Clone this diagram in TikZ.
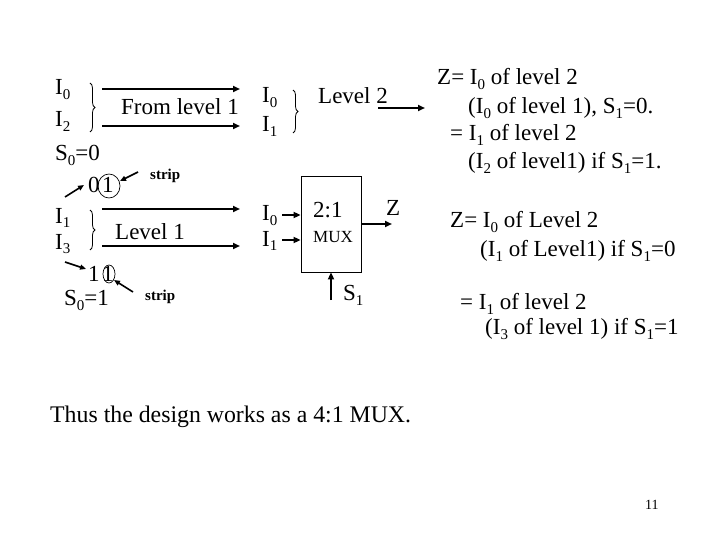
\documentclass[tikz,border=0pt]{standalone}
\usepackage{fontspec}
\setmainfont{Liberation Serif}
\usetikzlibrary{arrows.meta,decorations.pathreplacing}
\newcommand\ssub[1]{\raisebox{-5pt}{\fontsize{15}{15}\selectfont #1}}
\tikzset{
  lbl/.style={inner sep=0pt, anchor=base west, font=\fontsize{23}{27}\selectfont},
  sml/.style={inner sep=0pt, anchor=base west, font=\fontsize{17}{20}\selectfont},
  striplbl/.style={inner sep=0pt, anchor=base west, font=\fontsize{15}{18}\selectfont\bfseries},
  arr/.style={line width=2pt, -{Triangle[length=7pt,width=6pt]}},
  thinarr/.style={line width=1.6pt, -{Triangle[length=6pt,width=5pt]}},
  brc/.style={decorate, decoration={brace, amplitude=5pt}, line width=0.8pt},
}
\begin{document}
\begin{tikzpicture}[x=1pt,y=-1pt]
\useasboundingbox (0,0) rectangle (720,540);
% top-left group
\node[lbl] (i0a) at (55,95) {I\ssub{0}};
\node[lbl] (i2a) at (55,127) {I\ssub{2}};
\draw[brc] (90,83) -- (90,132);
\coordinate (a1s) at (102,89); \coordinate (a1e) at (240,89);
\coordinate (a2s) at (102,126); \coordinate (a2e) at (240,126);
\draw[arr] (a1s) -- (a1e);
\draw[arr] (a2s) -- (a2e);
\node[lbl] (from) at (121,115) {From level 1};
\node[lbl] (s00) at (55,161) {S\ssub{0}=0};
% 0 1 strip
\node[lbl] (d0) at (88,193) {0};
\node[lbl] (d1) at (102,193) {1};
\draw[line width=0.7pt] (109,186) ellipse [x radius=11, y radius=12];
\coordinate (p1s) at (65,197); \coordinate (p1e) at (84,185);
\draw[thinarr] (p1s) -- (p1e);
\coordinate (st1s) at (138,172); \coordinate (st1e) at (120,181);
\draw[thinarr] (st1s) -- (st1e);
\node[striplbl] (strip1) at (150,180) {strip};
% second left group
\node[lbl] (i1a) at (55,223) {I\ssub{1}};
\node[lbl] (i3a) at (55,249) {I\ssub{3}};
\draw[brc] (90,210) -- (90,250);
\coordinate (b1s) at (102,209); \coordinate (b1e) at (240,209);
\coordinate (b2s) at (102,246); \coordinate (b2e) at (240,246);
\draw[arr] (b1s) -- (b1e);
\draw[arr] (b2s) -- (b2e);
\node[lbl] (lev1) at (115,240) {Level 1};
% 1 1 strip
\node[lbl] (e0) at (88,281) {1};
\node[lbl] (e1) at (102,281) {1};
\draw[line width=0.7pt] (109,274) ellipse [x radius=6, y radius=9];
\coordinate (p2s) at (65,262); \coordinate (p2e) at (86,269);
\draw[thinarr] (p2s) -- (p2e);
\coordinate (st2s) at (133,292); \coordinate (st2e) at (114,280);
\draw[thinarr] (st2s) -- (st2e);
\node[striplbl] (strip2) at (145,300) {strip};
\node[lbl] (s01) at (64,305) {S\ssub{0}=1};
% level 2 group
\node[lbl] (i0b) at (262,103) {I\ssub{0}};
\node[lbl] (i1b) at (262,132) {I\ssub{1}};
\draw[brc] (293,90) -- (293,133);
\node[lbl] (lev2) at (318,104) {Level 2};
\coordinate (l2s) at (378,108); \coordinate (l2e) at (425,108);
\draw[arr] (l2s) -- (l2e);
% MUX
\node[draw, line width=0.8pt, minimum width=60pt, minimum height=96pt, inner sep=0pt] (mux) at (331,224) {};
\node[lbl] (m21) at (313,218) {2:1};
\node[sml] (mmux) at (313,243) {MUX};
\node[lbl] (i0c) at (262,221) {I\ssub{0}};
\node[lbl] (i1c) at (262,246) {I\ssub{1}};
\coordinate (c0) at (282,215); \coordinate (c1) at (282,240);
\draw[arr] (c0) -- (mux.west |- c0);
\draw[arr] (c1) -- (mux.west |- c1);
\coordinate (zo) at (392,224);
\draw[arr] (mux.east |- zo) -- (zo);
\node[lbl] (zl) at (386,215) {Z};
\coordinate (s1s) at (331,300);
\draw[arr] (s1s) -- (mux.south);
\node[lbl] (s1l) at (343,300) {S\ssub{1}};
% right texts
\node[lbl] (r1) at (437,85) {Z= I\ssub{0} of level 2};
\node[lbl] (r2) at (468,114) {(I\ssub{0} of level 1), S\ssub{1}=0.};
\node[lbl] (r3) at (450,141) {= I\ssub{1} of level 2};
\node[lbl] (r4) at (468,169) {(I\ssub{2} of level1) if S\ssub{1}=1.};
\node[lbl] (q1) at (450,228) {Z= I\ssub{0} of Level 2};
\node[lbl] (q2) at (480,256) {(I\ssub{1} of Level1) if S\ssub{1}=0};
\node[lbl] (q3) at (460,309) {= I\ssub{1} of level 2};
\node[lbl] (q4) at (485,334) {(I\ssub{3} of level 1) if S\ssub{1}=1};
% bottom
\node[lbl, font=\fontsize{23.8}{28}\selectfont] (thus) at (50,422) {Thus the design works as a 4:1 MUX.};
\node[inner sep=0pt, anchor=base west, font=\fontsize{14}{16}\selectfont] (pg) at (645,509) {11};
\end{tikzpicture}
\end{document}
